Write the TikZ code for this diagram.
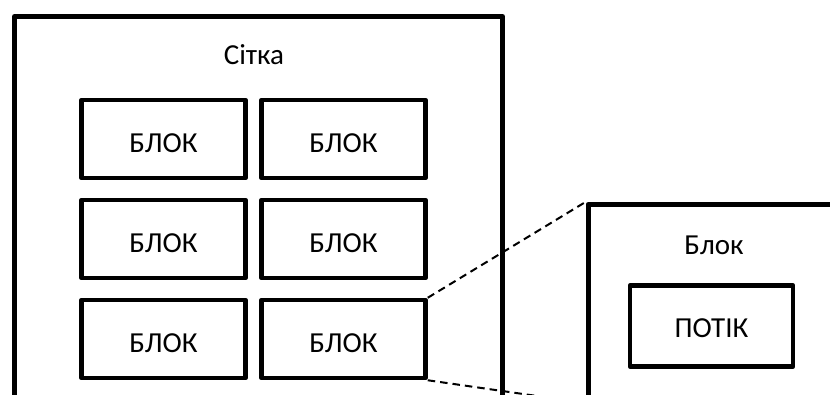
\documentclass[tikz,border=0pt]{standalone}
\usepackage{fontspec}
\setmainfont{Carlito}
\begin{document}
\begin{tikzpicture}[x=1pt,y=-1pt,
  frame/.style={draw=black,line width=5pt,line join=round,anchor=north west,inner sep=0pt},
  blockbox/.style={draw=black,line width=4.5pt,line join=round,minimum width=164pt,minimum height=78pt,inner sep=0pt,text height=26.7pt,text depth=0pt,font=\fontsize{29}{34}\selectfont},
  caption/.style={font=\fontsize{29}{34}\selectfont,inner sep=0pt},
  zoomline/.style={draw=black,line width=2pt,dash pattern=on 7.5pt off 5pt}]
\useasboundingbox (0,0) rectangle (830,394);
\clip (0,0) rectangle (830,394);
\node[frame,minimum width=488pt,minimum height=410pt] (grid) at (12,14) {};
\node[caption] (gridlabel) at (254,55) {Сітка};
\node[blockbox] (b11) at (163.5,139) {БЛОК};
\node[blockbox] (b12) at (343.5,139) {БЛОК};
\node[blockbox] (b21) at (163.5,239) {БЛОК};
\node[blockbox] (b22) at (343.5,239) {БЛОК};
\node[blockbox] (b31) at (163.5,339) {БЛОК};
\node[blockbox] (b32) at (343.5,339) {БЛОК};
\node[frame,minimum width=270pt,minimum height=196pt] (zoom) at (585.5,202) {};
\node[caption] (zoomlabel) at (714,245) {Блок};
\node[blockbox,minimum width=163pt,minimum height=81pt,text height=23.7pt] (thread) at (711.5,326) {ПОТІК};
\draw[zoomline] (b32.north east) -- (zoom.north west);
\draw[zoomline] (b32.south east) -- (zoom.south west);
\end{tikzpicture}
\end{document}
